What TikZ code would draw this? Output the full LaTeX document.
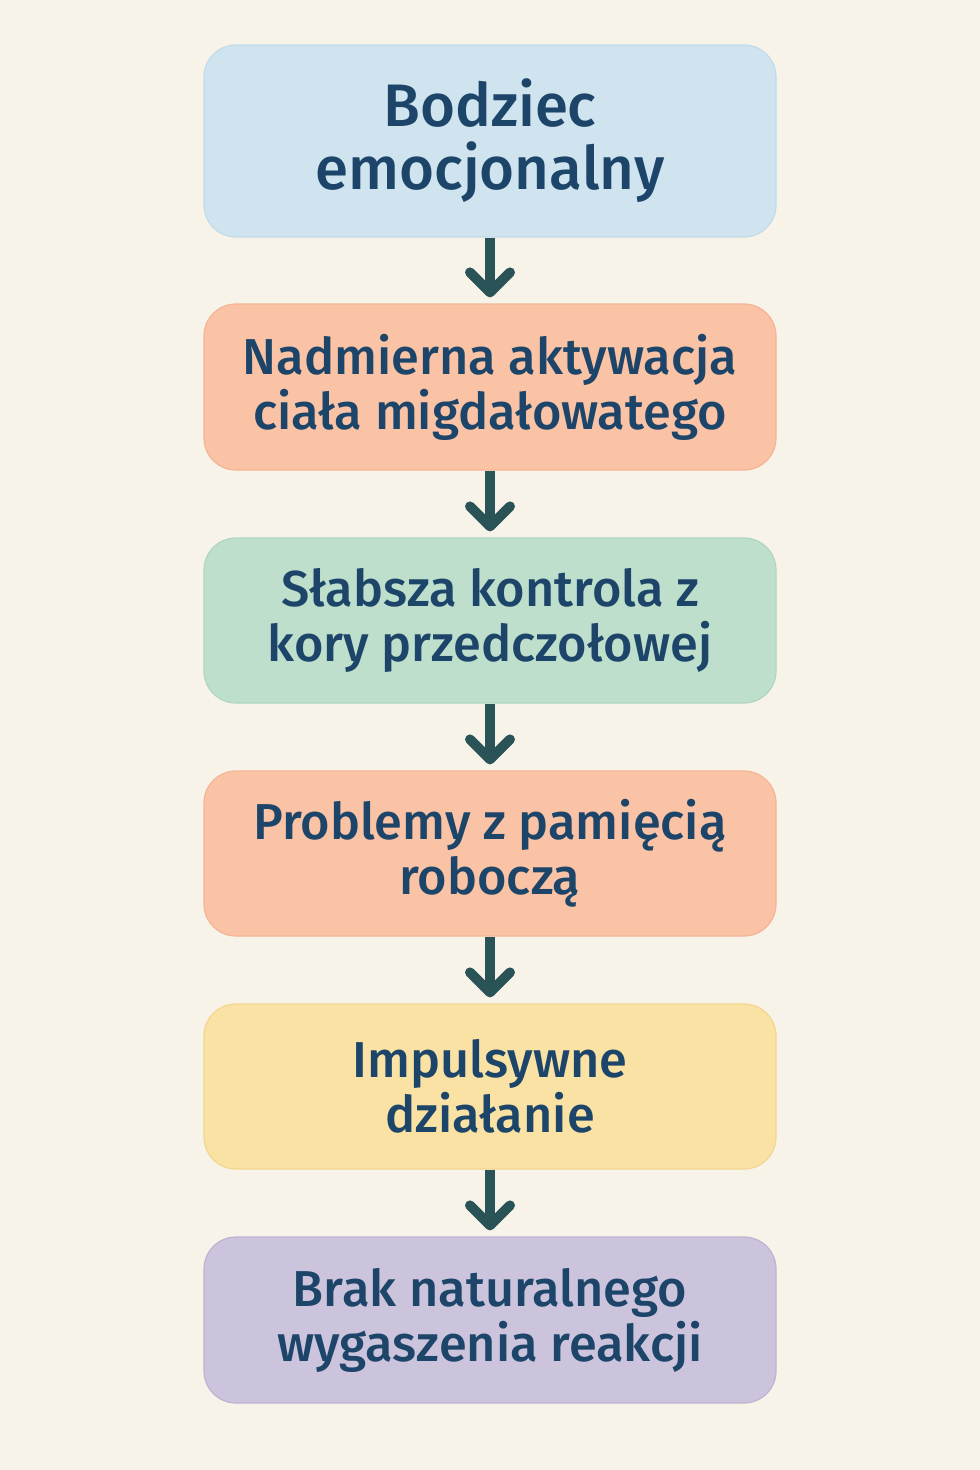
\documentclass[tikz,border=0pt]{standalone}
\usepackage{fontspec}
\setmainfont{Fira Sans}[UprightFont={* Medium}]
\usetikzlibrary{arrows.meta}
\definecolor{bgc}{HTML}{F8F3E8}
\definecolor{txt}{HTML}{1D4569}
\definecolor{arr}{HTML}{2A5358}
\definecolor{fblue}{HTML}{CFE4EF}\definecolor{dblue}{HTML}{C2DBEA}
\definecolor{fpeach}{HTML}{FBC3A5}\definecolor{dpeach}{HTML}{F4B496}
\definecolor{fmint}{HTML}{BEDFCC}\definecolor{dmint}{HTML}{B0D6C0}
\definecolor{fyel}{HTML}{F9E2A4}\definecolor{dyel}{HTML}{F2D690}
\definecolor{flav}{HTML}{CCC4DC}\definecolor{dlav}{HTML}{BDB3D2}
\tikzset{
  stepbox/.style={rectangle, rounded corners=32pt, minimum width=572pt, align=center,
    text=txt, line width=1.2pt, font=\fontsize{50.5}{55}\selectfont, inner sep=0pt},
  conn/.style={draw=arr, line width=10pt, -{Straight Barb[round, length=20pt, width=40pt]}},
}
\begin{document}
\begin{tikzpicture}[x=1pt,y=-1pt]
\fill[bgc] (0,0) rectangle (980,1470);
\useasboundingbox (0,0) rectangle (980,1470);
\node[stepbox, fill=fblue, draw=dblue, minimum height=192pt, font=\fontsize{60}{63}\selectfont] (b1) at (490,141) {Bodziec\\emocjonalny};
\node[stepbox, fill=fpeach, draw=dpeach, minimum height=166pt] (b2) at (490,387) {Nadmierna aktywacja\\ciała migdałowatego};
\node[stepbox, fill=fmint, draw=dmint, minimum height=165pt] (b3) at (490,620.5) {Słabsza kontrola z\\kory przedczołowej};
\node[stepbox, fill=fpeach, draw=dpeach, minimum height=165pt] (b4) at (490,853.5) {Problemy z pamięcią\\roboczą};
\node[stepbox, fill=fyel, draw=dyel, minimum height=165pt] (b5) at (490,1086.5) {Impulsywne\\działanie};
\node[stepbox, fill=flav, draw=dlav, minimum height=166pt] (b6) at (490,1320) {Brak naturalnego\\wygaszenia reakcji};
\foreach \a/\b in {b1/b2,b2/b3,b3/b4,b4/b5,b5/b6}{
  \draw[conn] (\a.south) -- ([yshift=6pt]\b.north);
}
\end{tikzpicture}
\end{document}
